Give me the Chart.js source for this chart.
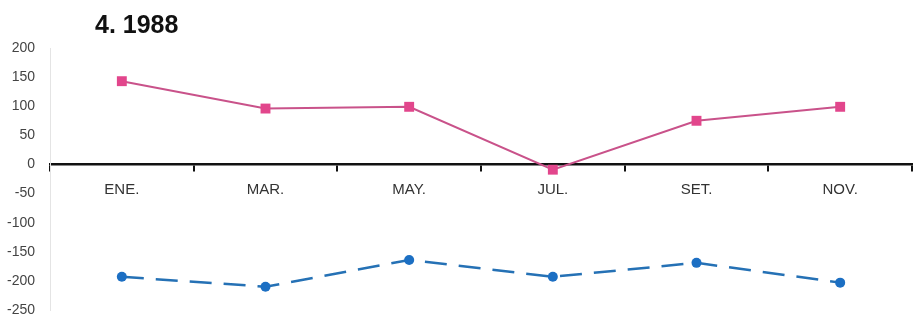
<!DOCTYPE html>
<html>
<head>
<meta charset="utf-8">
<script src="https://cdn.jsdelivr.net/npm/chart.js@4"></script>
<style>
    html, body { margin: 0; padding: 0; background: #fff; }
    #wrap { position: relative; width: 919px; height: 317px; }
    #title {
        position: absolute; left: 95px; top: 10px;
        font: bold 25px "Liberation Sans", Arial, sans-serif; color: #111;
    }
</style>
</head>
<body>
<div id="wrap">
    <div id="title">4. 1988</div>
    <canvas id="chart" width="919" height="317"></canvas>
</div>
<script>
// data
const months = ['ENE.', 'MAR.', 'MAY.', 'JUL.', 'SET.', 'NOV.'];
const upperSeries = [143, 96, 99, -9, 75, 99];
const lowerSeries = [-193, -210, -164, -193, -169, -203];
const yTicks = [200, 150, 100, 50, 0, -50, -100, -150, -200, -250];

const ctx = document.getElementById('chart').getContext('2d');
new Chart(ctx, {
    type: 'line',
    data: {
        labels: months,
        datasets: [{
            data: upperSeries,
            borderColor: '#c9528a',
            backgroundColor: '#e2468c',
            borderWidth: 2,
            pointStyle: 'rect',
            pointRadius: 7,
            pointBorderWidth: 0,
            tension: 0
        }, {
            data: lowerSeries,
            borderColor: '#2571b5',
            backgroundColor: '#1c6fc3',
            borderWidth: 2.5,
            borderDash: [22, 12],
            pointStyle: 'circle',
            pointRadius: 5,
            pointBorderWidth: 0,
            tension: 0
        }]
    },
    options: {
        responsive: false,
        animation: false,
        layout: { padding: { top: 48, right: 1, bottom: 4, left: 0 } },
        plugins: {
            legend: { display: false },
            tooltip: { enabled: false }
        },
        scales: {
            x: {
                position: { y: 0 },
                offset: true,
                // axis sits at zero, so it should not take room at the bottom
                afterFit: function(scale) { scale.height = 0; },
                grid: {
                    offset: true,
                    drawOnChartArea: false,
                    drawTicks: true,
                    tickLength: 6,
                    color: '#111',
                    lineWidth: 2
                },
                border: { display: true, color: '#111', width: 2.5 },
                ticks: {
                    padding: 10,
                    color: '#333',
                    font: { family: '"Liberation Sans", Arial, sans-serif', size: 15 }
                }
            },
            y: {
                min: -250,
                max: 200,
                afterFit: function(scale) {
                    scale.width = 50;
                    // tick padding would otherwise shrink the plot top and bottom
                    scale.paddingTop = 0;
                    scale.paddingBottom = 0;
                },
                afterBuildTicks: function(scale) {
                    scale.ticks = yTicks.map(v => ({ value: v }));
                },
                grid: { display: false, drawTicks: false },
                border: { display: true, color: '#e4e4e4', width: 1 },
                ticks: {
                    padding: 15,
                    color: '#444',
                    font: { family: '"Liberation Sans", Arial, sans-serif', size: 14 }
                }
            }
        }
    }
});
</script>
</body>
</html>
